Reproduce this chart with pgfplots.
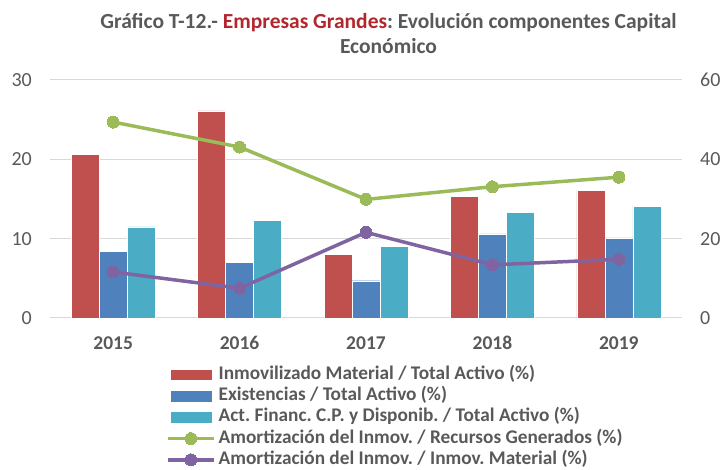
\documentclass[border=0pt]{standalone}
\usepackage{fontspec}
\setmainfont{Carlito}
\usepackage{pgfplots}
\pgfplotsset{compat=1.18}
\definecolor{txt}{HTML}{595959}
\definecolor{gridc}{HTML}{D9D9D9}
\definecolor{cred}{HTML}{C0504D}
\definecolor{cblue}{HTML}{4F81BD}
\definecolor{cteal}{HTML}{4BACC6}
\definecolor{cgreen}{HTML}{9BBB59}
\definecolor{cpurple}{HTML}{8064A2}
\definecolor{tred}{HTML}{B3262D}
\pgfplotsset{
 barleg/.style={legend image code/.code={\fill[##1, draw=none] (0pt,-5.3pt) rectangle (41pt,5.3pt);}},
 lineleg/.style={legend image code/.code={\draw[mark repeat=2,mark phase=2,##1] plot coordinates {(-3pt,0pt)(20pt,0pt)(43pt,0pt)};}}
}
\begin{document}
\frenchspacing
\begin{tikzpicture}
\useasboundingbox (0pt,0pt) rectangle (720pt,470pt);
\node[font=\fontsize{21.5}{25}\selectfont\bfseries, text=txt, anchor=base] at (388.5pt,441.7pt) {Gráfico T-12.- \textcolor{tred}{Empresas Grandes}: Evolución componentes Capital};
\node[font=\fontsize{21.5}{25}\selectfont\bfseries, text=txt, anchor=base] at (388.5pt,416.7pt) {Económico};
\begin{axis}[at={(50pt,152pt)}, anchor=south west, scale only axis, width=632pt, height=238pt,
 xmin=-0.5, xmax=4.5, ymin=0, ymax=30, ytick={0,10,20,30}, xtick={0,1,2,3,4},
 xticklabels={2015,2016,2017,2018,2019},
 axis line style={draw=none}, major tick length=0pt, ymajorgrids, grid style={gridc, line width=1pt},
 ybar=0pt, bar width=28pt,
 tick label style={text=txt},
 yticklabel style={font=\fontsize{20}{20}\selectfont, anchor=east, inner sep=0pt, xshift=-18pt},
 xticklabel style={font=\fontsize{19.5}{20}\selectfont\bfseries, anchor=center, inner sep=0pt, text height=12.4pt, text depth=0pt, yshift=-25pt},
 /pgf/number format/assume math mode=true]
\addplot[fill=cred, draw=white, line width=0.4pt] coordinates {(0,20.6)(1,26.1)(2,8.0)(3,15.3)(4,16.1)};
\addplot[fill=cblue, draw=white, line width=0.4pt] coordinates {(0,8.4)(1,7.0)(2,4.7)(3,10.6)(4,10.1)};
\addplot[fill=cteal, draw=white, line width=0.4pt] coordinates {(0,11.5)(1,12.3)(2,9.0)(3,13.3)(4,14.1)};
\end{axis}
\begin{axis}[at={(50pt,152pt)}, anchor=south west, scale only axis, width=632pt, height=238pt,
 xmin=-0.5, xmax=4.5, ymin=0, ymax=60, ytick={0,20,40,60},
 axis y line*=right, hide x axis, axis line style={draw=none}, major tick length=0pt,
 tick label style={text=txt},
 yticklabel style={font=\fontsize{20}{20}\selectfont, anchor=west, inner sep=0pt, xshift=18pt},
 /pgf/number format/assume math mode=true,
 legend cell align=left,
 legend style={at={(0.1835,-0.203)}, anchor=north west, draw=none, fill=none,
   font=\fontsize{19.3}{20}\selectfont\bfseries, text=txt, row sep=4.2pt, column sep=3pt, inner sep=0pt,
   nodes={inner sep=0pt, text height=13pt, text depth=4pt}}]
\addlegendimage{fill=cred, barleg}
\addlegendentry{Inmovilizado Material / Total Activo (\%)}
\addlegendimage{fill=cblue, barleg}
\addlegendentry{Existencias / Total Activo (\%)}
\addlegendimage{fill=cteal, barleg}
\addlegendentry{Act. Financ. C.P. y Disponib. / Total Activo (\%)}
\addplot[cgreen, line width=3.5pt, mark=*, mark size=6pt, mark options={solid, fill=cgreen, draw=cgreen, line width=0pt}, lineleg]
  coordinates {(0,49.4)(1,43.1)(2,29.9)(3,33.1)(4,35.5)};
\addlegendentry{Amortización del Inmov. / Recursos Generados (\%)}
\addplot[cpurple, line width=3.5pt, mark=*, mark size=6pt, mark options={solid, fill=cpurple, draw=cpurple, line width=0pt}, lineleg]
  coordinates {(0,11.6)(1,7.5)(2,21.6)(3,13.4)(4,14.8)};
\addlegendentry{Amortización del Inmov. / Inmov. Material (\%)}
\end{axis}
\end{tikzpicture}
\end{document}
